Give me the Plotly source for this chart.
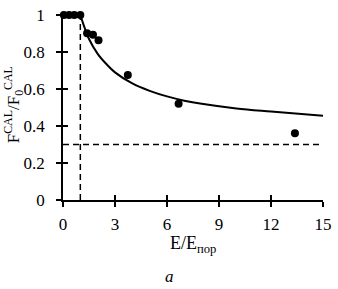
import plotly.graph_objects as go

# measured points
pts_x = [0.05, 0.35, 0.65, 1.0, 1.39, 1.73, 2.05, 3.74, 6.67, 13.38]
pts_y = [1.0, 1.0, 1.0, 1.0, 0.902, 0.893, 0.864, 0.675, 0.52, 0.361]

# fitted curve
fit_x = [1.0, 1.25, 1.5, 2.0, 2.5, 3.0, 4.0, 5.0, 6.0, 7.0, 8.0, 10.0, 12.0, 15.0]
fit_y = [1.0, 0.93, 0.87, 0.79, 0.735, 0.69, 0.63, 0.59, 0.56, 0.537, 0.52, 0.495, 0.478, 0.455]

x_threshold = 1.0
y_threshold = 0.3

x_ticks = [0, 3, 6, 9, 12, 15]
y_ticks = [0, 0.2, 0.4, 0.6, 0.8, 1]
y_ticklabels = ["0", "0.2", "0.4", "0.6", "0.8", "1"]

FONT = "Liberation Serif"

fig = go.Figure()
fig.add_trace(go.Scatter(x=fit_x, y=fit_y, mode="lines", line=dict(color="black", width=2, shape="spline"),
                         showlegend=False, hoverinfo="skip"))
fig.add_trace(go.Scatter(x=pts_x, y=pts_y, mode="markers", marker=dict(color="black", size=8),
                         cliponaxis=False, showlegend=False))
# invisible trace for overlay axes (crossing ticks)
fig.add_trace(go.Scatter(x=[0], y=[0], xaxis="x2", yaxis="y2", mode="markers",
                         marker=dict(opacity=0), showlegend=False, hoverinfo="skip"))

fig.add_shape(type="line", x0=x_threshold, x1=x_threshold, y0=0, y1=1, xref="x", yref="y",
              line=dict(color="black", width=1.5, dash="6px,4px"))
fig.add_shape(type="line", x0=0, x1=15, y0=y_threshold, y1=y_threshold, xref="x", yref="y",
              line=dict(color="black", width=1.5, dash="6px,4px"))

fig.update_layout(
    width=338, height=289,
    margin=dict(l=63, r=9, t=6, b=89),
    plot_bgcolor="white", paper_bgcolor="white",
    font=dict(family=FONT, size=17, color="black"),
    xaxis=dict(range=[0, 15], tickvals=x_ticks, ticks="outside", ticklen=5, tickwidth=1.5,
               tickcolor="black", showline=True, linecolor="black", linewidth=2,
               showgrid=False, zeroline=False, ticklabelstandoff=3, ticklabeloverflow="allow",
               tickfont=dict(family=FONT, size=17)),
    yaxis=dict(range=[0, 1], tickvals=y_ticks, ticktext=y_ticklabels, ticks="outside", ticklen=5,
               tickwidth=1.5, tickcolor="black", showline=True, linecolor="black", linewidth=1.5,
               showgrid=False, zeroline=False, ticklabelstandoff=8, ticklabeloverflow="allow",
               tickfont=dict(family=FONT, size=17)),
    xaxis2=dict(overlaying="x", anchor="y", range=[0, 15], tickvals=x_ticks, ticks="inside",
                ticklen=5, tickwidth=1.5, tickcolor="black", showticklabels=False,
                showline=False, showgrid=False, zeroline=False),
    yaxis2=dict(overlaying="y", anchor="x", side="left", range=[0, 1], tickvals=y_ticks,
                ticks="inside", ticklen=5, tickwidth=1.5, tickcolor="black",
                showticklabels=False, showline=False, showgrid=False, zeroline=False),
    annotations=[
        dict(text="F<sup>CAL</sup>/F<sub>0</sub><sup>CAL</sup>", xref="paper", yref="paper",
             x=-0.19, y=0.515, textangle=-90, showarrow=False, xanchor="center", yanchor="middle",
             font=dict(family=FONT, size=17)),
        dict(text="E/E<sub>пор</sub>", xref="paper", yref="paper", x=0.5, y=-0.24,
             showarrow=False, xanchor="center", yanchor="middle", font=dict(family=FONT, size=18)),
        dict(text="<i>a</i>", xref="paper", yref="paper", x=0.41, y=-0.412,
             showarrow=False, xanchor="center", yanchor="middle", font=dict(family=FONT, size=17)),
    ],
)

fig.write_html("out.html", config={"displayModeBar": False},
               post_script="document.body.style.margin='0';document.body.style.overflow='hidden';")
